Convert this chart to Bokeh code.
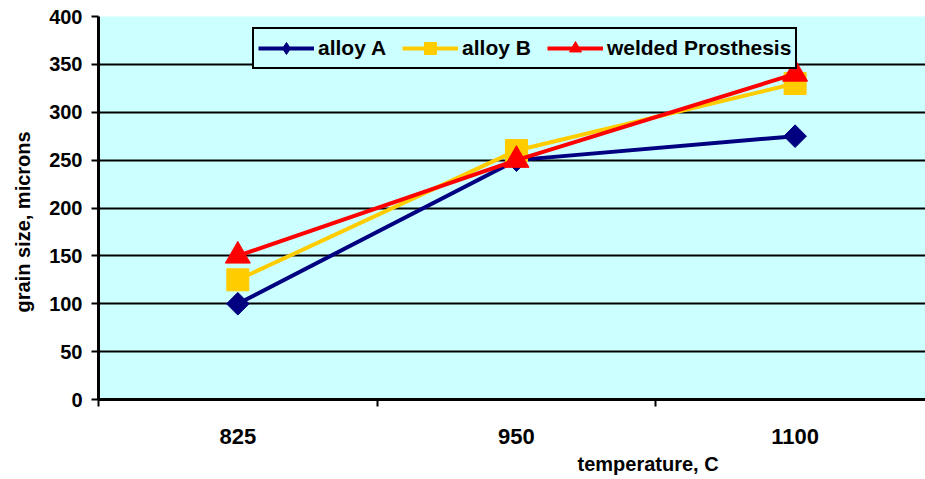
import math
from bokeh.plotting import figure
from bokeh.models import FixedTicker, Legend, LegendItem, Title
from bokeh.embed import file_html
from bokeh.resources import INLINE

temperatures = ["825", "950", "1100"]
alloy_a = [100, 250, 275]
alloy_b = [125, 260, 330]
welded = [150, 250, 340]
y_ticks = [0, 50, 100, 150, 200, 250, 300, 350, 400]

xs = list(range(len(temperatures)))

FONT = "Liberation Sans"
BG = "#CCFFFF"

p = figure(width=925, height=479, output_backend="svg", toolbar_location=None,
           x_range=(-0.5, 2.468), y_range=(0, 400),
           min_border_left=97, min_border_right=0, min_border_top=16, min_border_bottom=80)
p.background_fill_color = BG
p.border_fill_color = "white"
p.outline_line_color = None

# x axis
p.xaxis.ticker = FixedTicker(ticks=xs, minor_ticks=[-0.5, 0.5, 1.5, 2.5])
p.xaxis.major_label_overrides = {i: t for i, t in enumerate(temperatures)}
p.xaxis.major_tick_out = 0
p.xaxis.major_tick_in = 0
p.xaxis.minor_tick_out = 7
p.xaxis.minor_tick_in = 0
p.xaxis.minor_tick_line_width = 2
p.xaxis.minor_tick_line_color = "black"
p.xaxis.axis_line_width = 3
p.xaxis.axis_line_color = "black"
p.xaxis.major_label_text_font = FONT
p.xaxis.major_label_text_font_style = "bold"
p.xaxis.major_label_text_font_size = "22px"
p.xaxis.major_label_text_color = "black"
p.xaxis.major_label_standoff = 22
p.xgrid.grid_line_color = None

# y axis
p.yaxis.ticker = FixedTicker(ticks=y_ticks, minor_ticks=[])
p.yaxis.major_tick_out = 7
p.yaxis.major_tick_in = 0
p.yaxis.major_tick_line_width = 2
p.yaxis.major_tick_line_color = "black"
p.yaxis.axis_line_width = 3
p.yaxis.axis_line_color = "black"
p.yaxis.major_label_text_font = FONT
p.yaxis.major_label_text_font_style = "bold"
p.yaxis.major_label_text_font_size = "20px"
p.yaxis.major_label_text_color = "black"
p.yaxis.major_label_standoff = 9
p.ygrid.grid_line_color = "black"
p.ygrid.grid_line_width = 2

# axis titles placed as side titles so they can be offset like the reference
ytitle = Title(text="grain size, microns", align="left", offset=87,
               vertical_align="top",
               text_font=FONT, text_font_style="bold", text_font_size="20px",
               text_color="black", standoff=22)
p.add_layout(ytitle, "left")
xtitle = Title(text="temperature, C", align="left", offset=479,
               text_font=FONT, text_font_style="bold", text_font_size="20px",
               text_color="black", standoff=8)
p.add_layout(xtitle, "below")

series = [
    ("alloy A", alloy_a, "#000080", "square", math.pi / 4, 16, "diamond"),
    ("alloy B", alloy_b, "#FFCC00", "square", 0, 22, "square"),
    ("welded Prosthesis", welded, "#FF0000", "triangle", 0, 25, "triangle"),
]

nan = float("nan")
items = []
for name, vals, color, marker, ang, size, leg_marker in series:
    r1 = p.line(xs, vals, line_color=color, line_width=4)
    r2 = p.scatter(xs, vals, marker=marker, angle=ang, size=size,
                   fill_color=color, line_color=color)
    if leg_marker != marker:
        proxy = p.scatter(x=[nan], y=[nan], marker=leg_marker, size=size,
                          fill_color=color, line_color=color)
        items.append(LegendItem(label=name, renderers=[r1, proxy]))
    else:
        items.append(LegendItem(label=name, renderers=[r1, r2]))

legend = Legend(items=items, orientation="horizontal", location=(154, 330))
legend.label_text_font = FONT
legend.label_text_font_style = "bold"
legend.label_text_font_size = "21px"
legend.label_text_color = "black"
legend.glyph_width = 56
legend.glyph_height = 30
legend.label_height = 30
legend.label_standoff = 4
legend.spacing = 16
legend.padding = 4
legend.margin = 0
legend.border_line_color = "black"
legend.border_line_width = 2
legend.border_line_alpha = 1
legend.background_fill_color = BG
legend.background_fill_alpha = 1
p.add_layout(legend, "center")

open("out.html", "w").write(file_html(p, INLINE))
